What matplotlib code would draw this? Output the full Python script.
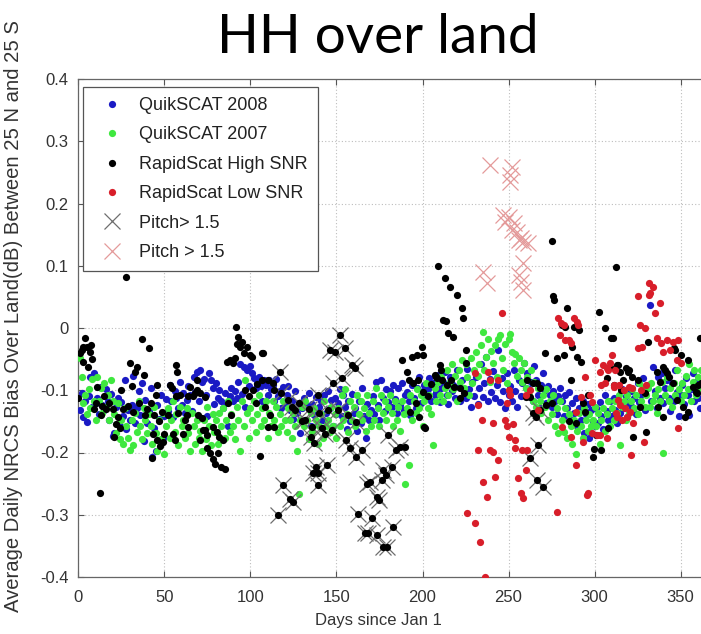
import numpy as np
import matplotlib
matplotlib.use("Agg")
import matplotlib.pyplot as plt
from matplotlib.lines import Line2D

# ---------------- data ----------------
q_days = np.arange(1, 366)

qs2008 = [
 -0.132,-0.104,-0.143,-0.118,-0.151,-0.109,-0.078,-0.127,-0.072,-0.121,
 -0.113,-0.138,-0.094,-0.124,-0.131,-0.098,-0.117,-0.148,-0.106,-0.173,
 -0.168,-0.127,-0.112,-0.158,-0.119,-0.142,-0.083,-0.163,-0.131,-0.147,
 -0.124,-0.077,-0.153,-0.128,-0.102,-0.139,-0.088,-0.182,-0.116,-0.152,
 -0.134,-0.097,-0.208,-0.161,-0.197,-0.123,-0.146,-0.108,-0.176,-0.141,
 -0.114,-0.133,-0.092,-0.118,-0.143,-0.101,-0.112,-0.129,-0.087,-0.123,
 -0.104,-0.137,-0.116,-0.093,-0.108,-0.134,-0.079,-0.103,-0.071,-0.118,
 -0.068,-0.086,-0.082,-0.107,-0.141,-0.073,-0.084,-0.097,-0.122,-0.088,
 -0.113,-0.099,-0.117,-0.128,-0.104,-0.121,-0.158,-0.109,-0.096,-0.118,
 -0.102,-0.112,-0.087,-0.058,-0.106,-0.063,-0.127,-0.068,-0.093,-0.061,
 -0.072,-0.081,-0.097,-0.088,-0.079,-0.093,-0.118,-0.083,-0.091,-0.107,
 -0.084,-0.098,-0.092,-0.117,-0.082,-0.109,-0.101,-0.128,-0.094,-0.121,
 -0.108,-0.093,-0.132,-0.118,-0.146,-0.102,-0.137,-0.121,-0.168,-0.128,
 -0.113,-0.147,-0.126,-0.104,-0.157,-0.122,-0.139,-0.111,-0.152,-0.127,
 -0.118,-0.148,-0.107,-0.136,-0.101,-0.129,-0.116,-0.158,-0.112,-0.138,
 -0.121,-0.098,-0.142,-0.108,-0.127,-0.162,-0.118,-0.149,-0.106,-0.137,
 -0.128,-0.166,-0.117,-0.153,-0.097,-0.141,-0.176,-0.122,-0.147,-0.131,
 -0.109,-0.138,-0.087,-0.124,-0.148,-0.083,-0.112,-0.133,-0.098,-0.119,
 -0.101,-0.127,-0.092,-0.114,-0.137,-0.097,-0.123,-0.088,-0.132,-0.108,
 -0.103,-0.118,-0.139,-0.091,-0.112,-0.128,-0.097,-0.079,-0.121,-0.102,
 -0.092,-0.113,-0.098,-0.081,-0.117,-0.089,-0.108,-0.103,-0.076,-0.119,
 -0.097,-0.087,-0.071,-0.108,-0.122,-0.078,-0.101,-0.091,-0.112,-0.068,
 -0.094,-0.118,-0.083,-0.102,-0.113,-0.066,-0.098,-0.127,-0.087,-0.109,
 -0.079,-0.122,-0.097,-0.058,-0.111,-0.088,-0.047,-0.117,-0.082,-0.103,
 -0.069,-0.113,-0.091,-0.036,-0.119,-0.081,-0.102,-0.128,-0.072,-0.107,
 -0.093,-0.118,-0.068,-0.101,-0.127,-0.083,-0.109,-0.088,-0.057,-0.097,
 -0.072,-0.098,-0.087,-0.118,-0.061,-0.083,-0.107,-0.128,-0.092,-0.073,
 -0.099,-0.121,-0.093,-0.108,-0.127,-0.102,-0.117,-0.138,-0.109,-0.097,
 -0.118,-0.142,-0.107,-0.128,-0.103,-0.148,-0.121,-0.137,-0.112,-0.158,
 -0.129,-0.147,-0.118,-0.168,-0.138,-0.122,-0.176,-0.131,-0.149,-0.157,
 -0.128,-0.152,-0.119,-0.141,-0.162,-0.108,-0.133,-0.148,-0.117,-0.142,
 -0.112,-0.131,-0.153,-0.118,-0.137,-0.098,-0.128,-0.109,-0.143,-0.121,
 -0.101,-0.127,-0.112,-0.138,-0.088,-0.119,-0.107,-0.081,-0.132,-0.098,
 -0.091, 0.037,-0.118,-0.062,-0.102,-0.128,-0.078,-0.113,-0.072,-0.121,
 -0.097,-0.083,-0.112,-0.134,-0.088,-0.117,-0.068,-0.103,-0.142,-0.108,
 -0.092,-0.122,-0.081,-0.107,-0.139,-0.098,-0.072,-0.118,-0.087,-0.113,
 -0.128,-0.082,-0.097,-0.121,-0.088]

qs2007 = [
 -0.048,-0.078,-0.121,-0.108,-0.138,-0.098,-0.128,-0.082,-0.117,-0.147,
 -0.079,-0.118,-0.097,-0.137,-0.088,-0.127,-0.108,-0.148,-0.083,-0.118,
 -0.138,-0.168,-0.121,-0.178,-0.147,-0.186,-0.128,-0.158,-0.177,-0.196,
 -0.148,-0.188,-0.137,-0.167,-0.118,-0.157,-0.178,-0.128,-0.147,-0.168,
 -0.138,-0.158,-0.187,-0.127,-0.168,-0.197,-0.148,-0.178,-0.137,-0.202,
 -0.157,-0.128,-0.176,-0.148,-0.118,-0.167,-0.138,-0.188,-0.127,-0.158,
 -0.147,-0.177,-0.128,-0.168,-0.198,-0.137,-0.157,-0.187,-0.148,-0.176,
 -0.166,-0.197,-0.147,-0.178,-0.127,-0.158,-0.188,-0.138,-0.167,-0.148,
 -0.186,-0.137,-0.158,-0.128,-0.177,-0.147,-0.118,-0.167,-0.138,-0.157,
 -0.178,-0.127,-0.148,-0.198,-0.118,-0.157,-0.083,-0.137,-0.177,-0.128,
 -0.147,-0.118,-0.167,-0.138,-0.108,-0.157,-0.128,-0.148,-0.117,-0.176,
 -0.137,-0.158,-0.118,-0.147,-0.127,-0.167,-0.138,-0.157,-0.117,-0.148,
 -0.167,-0.128,-0.147,-0.177,-0.137,-0.158,-0.198,-0.266,-0.148,-0.127,
 -0.157,-0.118,-0.148,-0.178,-0.137,-0.167,-0.128,-0.147,-0.187,-0.157,
 -0.138,-0.177,-0.118,-0.158,-0.147,-0.167,-0.127,-0.157,-0.138,-0.176,
 -0.128,-0.157,-0.108,-0.147,-0.098,-0.138,-0.167,-0.118,-0.148,-0.127,
 -0.157,-0.108,-0.138,-0.118,-0.147,-0.128,-0.166,-0.107,-0.137,-0.158,
 -0.118,-0.147,-0.097,-0.128,-0.157,-0.108,-0.137,-0.117,-0.147,-0.127,
 -0.108,-0.137,-0.157,-0.118,-0.147,-0.127,-0.166,-0.117,-0.138,-0.250,
 -0.128,-0.220,-0.108,-0.147,-0.117,-0.137,-0.098,-0.128,-0.107,-0.157,
 -0.117,-0.088,-0.128,-0.107,-0.138,-0.188,-0.097,-0.118,-0.087,-0.108,
 -0.078,-0.117,-0.097,-0.068,-0.107,-0.087,-0.058,-0.098,-0.077,-0.117,
 -0.068,-0.087,-0.052,-0.097,-0.058,-0.078,-0.107,-0.048,-0.088,-0.067,
 -0.038,-0.077,-0.058,-0.028,-0.006,-0.068,-0.047,-0.018,-0.087,-0.037,
 -0.057,-0.027,-0.078,-0.017,-0.011,-0.048,-0.068,-0.026,-0.088,-0.018,
 -0.009,-0.038,-0.057,-0.041,-0.077,-0.048,-0.068,-0.087,-0.057,-0.097,
 -0.078,-0.107,-0.068,-0.118,-0.087,-0.127,-0.097,-0.117,-0.137,-0.108,
 -0.127,-0.098,-0.147,-0.117,-0.138,-0.107,-0.157,-0.128,-0.168,-0.118,
 -0.147,-0.167,-0.128,-0.177,-0.138,-0.157,-0.186,-0.148,-0.202,-0.166,
 -0.137,-0.158,-0.177,-0.128,-0.147,-0.166,-0.138,-0.157,-0.148,-0.127,
 -0.158,-0.137,-0.187,-0.147,-0.128,-0.166,-0.138,-0.117,-0.157,-0.128,
 -0.147,-0.118,-0.137,-0.108,-0.188,-0.127,-0.117,-0.148,-0.107,-0.137,
 -0.117,-0.098,-0.128,-0.107,-0.138,-0.088,-0.117,-0.097,-0.127,-0.108,
 -0.097,-0.127,-0.088,-0.117,-0.107,-0.137,-0.098,-0.118,-0.087,-0.200,
 -0.107,-0.078,-0.117,-0.097,-0.127,-0.088,-0.108,-0.068,-0.098,-0.117,
 -0.088,-0.107,-0.077,-0.098,-0.058,-0.118,-0.087,-0.068,-0.107,-0.078,
 -0.097,-0.068,-0.088,-0.108,-0.077]

# RapidScat High SNR (no pitch flag)
hi_days = [0,1,2,2.5,3,4,5,5.8,6.8,7.3,8,9,10,11,12.6,13,14,15,16,18,20,20.5,22,23,24,25,26,
           27.7,29,30,31,32,33,34,35,36.8,38.4,39,40,41.1,42,43,43.5,44,45,45.5,46,47,47.5,48.6,49,50,
           52,53.5,54.5,55,56,56.5,57,57.5,58,59,61,62,63,63.5,64,65,66.5,68,68.8,69,69.5,70.5,70.8,72,
           72.5,73.5,73.6,74.6,75,76.5,78,78.5,79.5,80.5,81,82,83,84,85,86.4,87,88,89,90,
           91,91.7,92,93,94,95,96,97,98,99,100,101,101.6,103,104,105.6,106.6,107,107.5,108.5,110,
           110.5,111.5,113,113.5,114,
           188,189.6,191,192,193,194,194.6,196,197,197.5,197.8,199.6,200,200.5,201,201.5,203,205,
           207.5,208,208.5,209,210,211,211.5,212,213,213.5,214,215,216,216.5,218,218.5,220,221.5,
           222,223,223.6,224,225,225.5,
           260,261,262.5,264,266.5,268,271,272,275,275.5,276,276.5,278,281,282,283,284,285,286,287,
           288,289,290,291,292,293.5,294.5,296,299,299.7,
           301,302.6,304,306,307,307.5,309,309.5,310.5,311,312.7,313,313.5,315,315.5,316.7,318,319.6,
           320,322,322.5,325,326.6,329.5,330,331,336.5,337,338,339.5,340,341,342,343,345.6,346,347,
           348,350,351.5,352.6,354,354.5,357,359,359.6,360,361.5,361.8]
hi_vals = [-0.113,-0.04,-0.035,-0.054,-0.03,-0.016,-0.03,-0.062,-0.038,-0.027,-0.05,-0.13,-0.12,
           -0.095,-0.265,-0.14,-0.125,-0.11,-0.13,-0.12,-0.13,-0.175,-0.155,-0.143,-0.16,-0.10,-0.13,
           0.082,-0.125,-0.057,-0.093,-0.135,-0.07,-0.062,-0.12,-0.017,-0.075,-0.14,-0.13,-0.032,-0.12,
           -0.209,-0.17,-0.14,-0.108,-0.18,-0.092,-0.15,-0.19,-0.135,-0.183,-0.17,
           -0.14,-0.092,-0.097,-0.17,-0.18,-0.06,-0.11,-0.07,-0.137,-0.108,-0.17,-0.148,-0.14,-0.11,
           -0.159,-0.095,-0.11,-0.105,-0.083,-0.10,-0.14,-0.105,-0.18,-0.145,
           -0.164,-0.164,-0.111,-0.172,-0.193,-0.20,-0.159,-0.21,-0.218,-0.167,-0.20,-0.175,-0.223,
           -0.18,-0.226,-0.054,-0.12,-0.051,-0.14,-0.056,
           -0.048,0.002,-0.025,-0.014,-0.03,-0.022,-0.04,-0.10,-0.03,-0.11,-0.043,-0.047,-0.10,-0.12,
           -0.09,-0.205,-0.04,-0.083,-0.04,-0.127,-0.083,
           -0.159,-0.14,-0.089,-0.159,-0.10,
           -0.051,-0.191,-0.07,-0.083,-0.135,-0.047,-0.089,-0.12,-0.043,-0.083,-0.143,-0.03,-0.043,
           -0.103,-0.159,-0.161,-0.11,-0.09,
           -0.075,-0.079,-0.08,0.10,-0.06,-0.068,-0.083,0.013,0.08,0.011,-0.092,-0.008,0.066,-0.083,
           -0.014,-0.095,0.053,-0.097,
           -0.113,0.032,0.016,-0.105,-0.035,-0.056,
           -0.111,-0.083,-0.111,-0.089,-0.089,-0.097,-0.04,-0.123,-0.12,0.14,0.051,0.045,-0.048,0.005,
           -0.043,0.002,0.032,-0.15,-0.083,-0.03,
           0.002,-0.153,-0.047,-0.003,-0.055,-0.12,-0.135,-0.107,-0.207,-0.195,
           -0.172,0.026,-0.196,0.0,-0.08,-0.16,-0.062,-0.016,-0.016,-0.092,0.098,-0.06,-0.06,-0.07,
           -0.10,-0.083,-0.064,-0.07,
           -0.068,-0.078,-0.175,-0.083,-0.127,-0.105,-0.167,-0.022,-0.07,-0.127,-0.087,-0.062,-0.143,
           -0.068,-0.072,-0.079,-0.089,-0.032,-0.035,
           -0.116,-0.043,-0.127,-0.143,-0.051,-0.135,-0.095,-0.103,-0.105,-0.092,-0.016,-0.089]

# RapidScat High SNR flagged with pitch > 1.5
pitch_days = [116,117,118,119,122,123,124,125,126,128,130,132,134,135,136,136.5,137,138,139,139.2,
              139.5,140,141.5,143.6,144.5,145,146,147.5,148,149,151,152,153,155,155.5,157,158,159,
              161,161.2,161.5,162.5,165,166.5,168,168.5,169.5,170.5,173.5,173.7,175,176.5,176.8,177,
              179,179.3,180,182.5,183,184.6,187,
              262.5,264,266,266.5,267,268,270]
pitch_vals = [-0.30,-0.07,-0.105,-0.252,-0.116,-0.275,-0.127,-0.28,-0.132,-0.12,-0.15,-0.148,-0.13,
              -0.175,-0.159,-0.233,-0.185,-0.223,-0.252,-0.108,-0.233,-0.137,-0.16,-0.17,-0.22,-0.132,
              -0.035,-0.164,-0.089,-0.038,-0.132,-0.011,-0.08,-0.032,-0.18,-0.14,-0.193,-0.06,-0.065,
              -0.151,-0.207,-0.298,-0.196,-0.33,-0.25,-0.33,-0.248,-0.305,-0.272,-0.333,-0.277,-0.244,
              -0.352,-0.228,-0.236,-0.352,-0.172,-0.223,-0.32,-0.196,-0.191,
              -0.209,-0.137,-0.143,-0.244,-0.188,-0.132,-0.255]

# RapidScat Low SNR
lo_days = [226,230.5,230.5,232,232.5,233.5,234.5,235,236.5,237.5,238,239,239.5,241,241,242,244,244,
           246,248,249,249,250,250,251,252.5,254,254,255.5,257,258,258.5,260,260,261,262.5,267,278,
           279,280,280.5,281,282,283,285,286,286,288,289,289,290,290.5,292,293,294.5,295.5,296,297.5,
           298.5,298.5,300.5,301.5,303,303,304,305,306,307,307,308,309,310,311,311.5,312,312.5,313,
           313.5,314,315,316,317,317.5,319,320,320.5,321,322,322.5,325,325.5,326.5,327,327.5,328.5,
           329.5,330,331.5,331.8,332,334,335,336.5,338,338.3,340,342,343.9,345.6,348,348.3,348.6,350]
lo_vals = [-0.297,-0.072,-0.313,-0.196,-0.124,-0.344,-0.148,-0.248,-0.40,-0.272,-0.07,-0.196,-0.083,
           -0.153,-0.199,-0.24,-0.083,-0.212,0.024,-0.148,-0.157,-0.12,-0.10,-0.175,-0.108,-0.154,
           -0.18,-0.193,-0.241,-0.265,-0.196,-0.273,-0.228,-0.108,-0.196,-0.10,-0.132,-0.296,
           0.016,-0.011,0.008,-0.159,0.005,-0.019,-0.019,-0.024,-0.175,0.016,-0.22,-0.135,0.01,0.005,
           -0.111,-0.183,-0.079,-0.268,-0.265,-0.108,-0.119,-0.169,-0.051,-0.172,-0.07,-0.172,-0.092,
           -0.06,-0.089,-0.064,-0.177,-0.068,-0.056,-0.043,-0.092,-0.095,-0.068,-0.137,-0.143,-0.116,
           -0.092,-0.124,-0.148,-0.10,-0.129,-0.143,-0.095,-0.135,-0.204,-0.097,-0.153,0.051,-0.032,
           0.005,-0.10,-0.03,-0.183,0.0,-0.092,0.072,0.053,0.056,0.066,0.024,-0.016,0.04,-0.024,
           -0.039,-0.019,-0.035,-0.022,-0.051,-0.161,-0.019,-0.056]

# RapidScat Low SNR flagged with pitch > 1.5
lo_pitch_days = [235,237.5,239.5,247,248,250,251,251,252,252,253,255,256,256,257,257,258.5,258.5,
                 258.5,261.5]
lo_pitch_vals = [0.09,0.072,0.262,0.182,0.17,0.178,0.246,0.235,0.259,0.158,0.169,0.154,0.141,0.085,
                 0.145,0.074,0.138,0.104,0.061,0.137]

labels = ["QuikSCAT 2008", "QuikSCAT 2007", "RapidScat High SNR", "RapidScat Low SNR",
          "Pitch> 1.5", "Pitch > 1.5"]
x_ticks = [0, 50, 100, 150, 200, 250, 300, 350]
y_ticks = [-0.4, -0.3, -0.2, -0.1, 0, 0.1, 0.2, 0.3, 0.4]
y_ticklabels = ["-0.4", "-0.3", "-0.2", "-0.1", "0", "0.1", "0.2", "0.3", "0.4"]

# ---------------- style ----------------
C_BLUE = "#1a1ac4"
C_GREEN = "#3fe83f"
C_RED = "#d81e2a"
C_BLACK = "#000000"
C_GRAYX = "#6e6e6e"
C_PINKX = "#e49a9a"
SANS = ["Liberation Sans", "DejaVu Sans"]

W, H = 701, 634
fig = plt.figure(figsize=(W / 100, H / 100), dpi=100)
fig.patch.set_facecolor("white")

ax_left, ax_bottom, ax_top = 78.3, 577, 79
px_per_day = 1.721
xmax = 370
ax_w_px = xmax * px_per_day
ax_h_px = ax_bottom - ax_top
ax = fig.add_axes([ax_left / W, (H - ax_bottom) / H, ax_w_px / W, ax_h_px / H])

ms = 5.2
ax.plot(q_days, qs2008, linestyle="none", marker="o", ms=ms, mec="none", mfc=C_BLUE, zorder=3)
ax.plot(q_days, qs2007, linestyle="none", marker="o", ms=ms, mec="none", mfc=C_GREEN, zorder=3)
ax.plot(hi_days, hi_vals, linestyle="none", marker="o", ms=ms, mec="none", mfc=C_BLACK, zorder=4)
ax.plot(pitch_days, pitch_vals, linestyle="none", marker="o", ms=ms, mec="none", mfc=C_BLACK, zorder=4)
ax.plot(lo_days, lo_vals, linestyle="none", marker="o", ms=ms, mec="none", mfc=C_RED, zorder=4)
ax.plot(pitch_days, pitch_vals, linestyle="none", marker="x", ms=11, mew=0.9, color=C_GRAYX, zorder=3.5)
ax.plot(lo_pitch_days, lo_pitch_vals, linestyle="none", marker="x", ms=11.5, mew=0.9, color=C_PINKX, zorder=4)

ax.set_xlim(0, xmax)
ax.set_ylim(-0.4, 0.4)
ax.set_xticks(x_ticks)
ax.set_yticks(y_ticks)
ax.set_xticklabels([str(v) for v in x_ticks])
ax.set_yticklabels(y_ticklabels)
ax.tick_params(direction="in", length=4, width=0.8, top=True, right=True, colors="#555555",
               labelcolor="#333333", labelsize=12)
ax.tick_params(axis="x", pad=9)
ax.tick_params(axis="y", pad=7)
for lab in ax.get_xticklabels() + ax.get_yticklabels():
    lab.set_family(SANS)
for sp in ax.spines.values():
    sp.set_color("#666666")
    sp.set_linewidth(0.9)
ax.grid(True, linestyle=(0, (1, 2)), color="#bdbdbd", linewidth=0.8)
ax.set_axisbelow(True)

fig.text(378 / W, 1 - 620 / H, "Days since Jan 1", ha="center", va="center", fontsize=12,
         color="#333333", family=SANS)
fig.text(14 / W, 1 - 316 / H, "Average Daily NRCS Bias Over Land(dB) Between 25 N and 25 S",
         ha="center", va="center", rotation=90, fontsize=14.6, color="#333333", family=SANS)
fig.text(378 / W, 1 - 53 / H, "HH over land", ha="center", va="baseline", fontsize=39.5,
         color="black", family=["Lato", "DejaVu Sans"])

handles = [
    Line2D([], [], linestyle="none", marker="o", ms=ms, mec="none", mfc=C_BLUE),
    Line2D([], [], linestyle="none", marker="o", ms=ms, mec="none", mfc=C_GREEN),
    Line2D([], [], linestyle="none", marker="o", ms=ms, mec="none", mfc=C_BLACK),
    Line2D([], [], linestyle="none", marker="o", ms=ms, mec="none", mfc=C_RED),
    Line2D([], [], linestyle="none", marker="x", ms=12, mew=0.9, color=C_GRAYX),
    Line2D([], [], linestyle="none", marker="x", ms=12, mew=0.9, color=C_PINKX),
]
leg = ax.legend(handles, labels, loc="upper left",
                bbox_to_anchor=((83 - ax_left) / ax_w_px, (ax_bottom - 87) / ax_h_px),
                borderaxespad=0, labelspacing=0.69, handlelength=2.13,
                handletextpad=0.43, borderpad=0.55, fancybox=False, framealpha=1,
                edgecolor="#555555", prop={"family": SANS, "size": 13})
leg.get_frame().set_linewidth(0.9)
for t in leg.get_texts():
    t.set_color("#222222")

fig.savefig("out.png", dpi=100, facecolor="white")
